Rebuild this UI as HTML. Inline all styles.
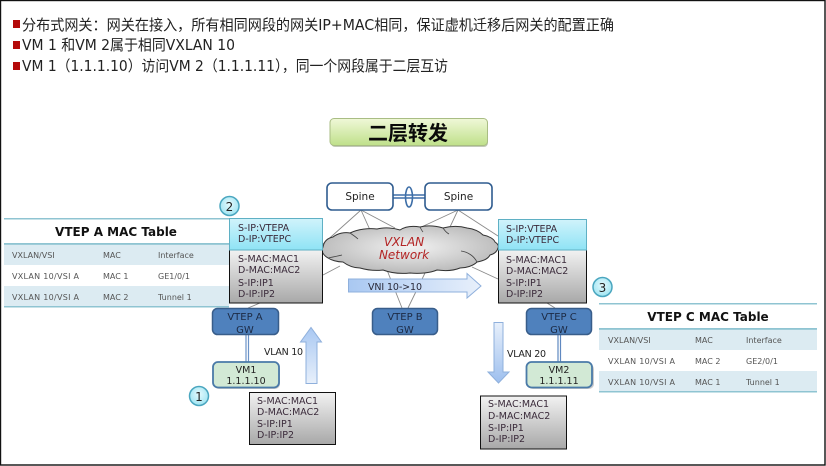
<!DOCTYPE html>
<html><head><meta charset="utf-8"><style>
html,body{margin:0;padding:0;background:#fff}
svg{display:block}
text{font-family:"DejaVu Sans","Noto Sans CJK SC",sans-serif;fill:#222}
.p{font-size:9.5px;fill:#3a2a3a}
.t{font-size:8px;fill:#555}
.g{font-size:10px;fill:#1c2a44;text-anchor:middle}
.m{font-size:15px;fill:#222}
</style></head><body>
<svg width="826" height="466" viewBox="0 0 826 466" xmlns="http://www.w3.org/2000/svg">
<defs>
<linearGradient id="gr" x1="0" y1="0" x2="0" y2="1"><stop offset="0" stop-color="#f2f2f2"/><stop offset="1" stop-color="#a8a8a8"/></linearGradient>
<linearGradient id="bl" x1="0" y1="0" x2="0" y2="1"><stop offset="0" stop-color="#d0f3fb"/><stop offset="1" stop-color="#8fe3f5"/></linearGradient>
<linearGradient id="ti" x1="0" y1="0" x2="0" y2="1"><stop offset="0" stop-color="#f0f8d8"/><stop offset="1" stop-color="#bfe08a"/></linearGradient>
<linearGradient id="ah" x1="0" y1="0" x2="1" y2="0"><stop offset="0" stop-color="#a9c8f2"/><stop offset="1" stop-color="#e8f0fb"/></linearGradient>
<linearGradient id="av" x1="0" y1="0" x2="0" y2="1"><stop offset="0" stop-color="#e8f0fb"/><stop offset="1" stop-color="#9dbfee"/></linearGradient>
<linearGradient id="au" x1="0" y1="0" x2="0" y2="1"><stop offset="0" stop-color="#a9c8f2"/><stop offset="1" stop-color="#e8f0fb"/></linearGradient>
<radialGradient id="ci" cx="0.5" cy="0.4" r="0.6"><stop offset="0" stop-color="#e4fafd"/><stop offset="1" stop-color="#9fe4f2"/></radialGradient>
<radialGradient id="cl" cx="0.5" cy="0.45" r="0.6"><stop offset="0" stop-color="#f2f2f2"/><stop offset="1" stop-color="#b4b4b4"/></radialGradient>
</defs>
<rect width="826" height="466" fill="#fff"/>
<rect x="0.5" y="0.5" width="824.5" height="464.5" fill="none" stroke="#111" stroke-width="1.4"/>

<!-- header text -->
<rect x="13" y="20" width="7" height="8" fill="#b40a0a"/>
<rect x="13" y="41" width="7" height="8" fill="#b40a0a"/>
<rect x="13" y="62" width="7" height="8" fill="#b40a0a"/>
<text class="m" x="22" y="30" textLength="592" lengthAdjust="spacingAndGlyphs">分布式网关：网关在接入，所有相同网段的网关IP+MAC相同，保证虚机迁移后网关的配置正确</text>
<text class="m" x="22" y="50" textLength="213" lengthAdjust="spacingAndGlyphs">VM 1 和VM 2属于相同VXLAN 10</text>
<text class="m" x="22" y="71" textLength="426" lengthAdjust="spacingAndGlyphs">VM 1（1.1.1.10）访问VM 2（1.1.1.11），同一个网段属于二层互访</text>

<!-- title -->
<rect x="331" y="120" width="157" height="27" rx="4" fill="#9aa58a" opacity=".6"/>
<rect x="330" y="118.500" width="157.500" height="27" rx="4" fill="url(#ti)" stroke="#a9bd84"/>
<text x="408" y="140" text-anchor="middle" style="font-size:20px;font-weight:bold;font-family:'Noto Sans CJK SC',sans-serif;fill:#0a0a0a">二层转发</text>

<!-- connector lines -->
<g stroke="#8a8a8a" stroke-width="0.9" fill="none">
<path d="M361 210L323 244M361 210L370 230M361 210L395 228M458 210L415 230M458 210L450 227M458 210L498 236"/>
<path d="M323 275L340 266M323 250L340 242M472 267L498 279M387 270L402 308M425 273L408 308M547 303L555 308M248 308L260 303"/>
</g>

<!-- spine link -->
<g stroke="#3e6fa8" stroke-width="1.600" fill="none">
<path d="M393 195H425M393 198H425"/>
<ellipse cx="409" cy="197" rx="3.500" ry="10"/>
</g>
<rect x="327" y="183" width="66" height="27" rx="5" fill="#fff" stroke="#2f5c8f" stroke-width="1.600"/>
<rect x="425" y="183" width="67" height="27" rx="5" fill="#fff" stroke="#2f5c8f" stroke-width="1.600"/>
<text x="360" y="200" text-anchor="middle" style="font-size:10.500px;fill:#222">Spine</text>
<text x="458.500" y="200" text-anchor="middle" style="font-size:10.500px;fill:#222">Spine</text>

<!-- cloud -->
<path d="M323 247C324 241 328 238 333 237C338 233 345 232 350 233C358 229 369 228 377 229C385 227 394 228 400 230C406 226 414 226 420 227C428 225 436 226 443 228C451 226 460 226 467 228C475 229 480 232 483 235C489 236 494 239 495 242C498 244 499 246 498 248C497 252 494 254 490 255C488 259 483 261 477 262C473 266 466 268 460 268C453 271 445 271 437 270C430 273 419 274 410 273C401 274 391 273 383 270C375 271 367 270 360 268C353 268 347 265 343 262C337 262 331 260 328 258C323 255 321 251 323 247Z" fill="url(#cl)" stroke="#333" stroke-width="1"/>
<g stroke="#444" stroke-width="0.8" fill="none">
<path d="M328 258C333 257 338 256 342 255M350 233C353 235 356 237 358 239M443 228C445 231 447 233 449 234M461 251C468 252 474 256 477 262M420 227C421 229 422 231 423 232"/>
</g>
<text x="404" y="246" text-anchor="middle" style="font-size:12px;font-style:italic;fill:#b32424">VXLAN</text>
<text x="404" y="259" text-anchor="middle" style="font-size:12px;font-style:italic;fill:#b32424">Network</text>

<!-- VNI arrow -->
<path d="M348.500 279H467V273.500L481 286L467 298V292H348.500Z" fill="url(#ah)" stroke="#8fb0dc" stroke-width="1"/>
<text x="368" y="290" textLength="54" style="font-size:9.500px;fill:#2a2a3a">VNI 10-&gt;10</text>

<!-- table A -->
<rect x="4" y="218" width="225" height="1.500" fill="#8fc4d2"/>
<text x="116" y="236" text-anchor="middle" style="font-size:12px;font-weight:bold;fill:#111">VTEP A MAC Table</text>
<rect x="4" y="244" width="225" height="21" fill="#dcebf2"/>
<rect x="4" y="243" width="225" height="1.800" fill="#8fc4d2"/>
<rect x="4" y="286" width="225" height="20" fill="#dcebf2"/>
<rect x="4" y="306" width="225" height="1.500" fill="#8fc4d2"/>
<text class="t" x="12" y="258">VXLAN/VSI</text><text class="t" x="103" y="258">MAC</text><text class="t" x="158" y="258">Interface</text>
<text class="t" x="12" y="279" textLength="67">VXLAN 10/VSI A</text><text class="t" x="103" y="279">MAC 1</text><text class="t" x="158" y="279">GE1/0/1</text>
<text class="t" x="12" y="300" textLength="67">VXLAN 10/VSI A</text><text class="t" x="103" y="300">MAC 2</text><text class="t" x="158" y="300">Tunnel 1</text>

<!-- table C -->
<rect x="599" y="303" width="218" height="1.500" fill="#8fc4d2"/>
<text x="708" y="321" text-anchor="middle" style="font-size:12px;font-weight:bold;fill:#111">VTEP C MAC Table</text>
<rect x="599" y="329" width="218" height="21" fill="#dcebf2"/>
<rect x="599" y="328" width="218" height="1.800" fill="#8fc4d2"/>
<rect x="599" y="371" width="218" height="20" fill="#dcebf2"/>
<rect x="599" y="391" width="218" height="1.500" fill="#8fc4d2"/>
<text class="t" x="608" y="343">VXLAN/VSI</text><text class="t" x="695" y="343">MAC</text><text class="t" x="746" y="343">Interface</text>
<text class="t" x="608" y="364" textLength="67">VXLAN 10/VSI A</text><text class="t" x="695" y="364">MAC 2</text><text class="t" x="746" y="364">GE2/0/1</text>
<text class="t" x="608" y="385" textLength="67">VXLAN 10/VSI A</text><text class="t" x="695" y="385">MAC 1</text><text class="t" x="746" y="385">Tunnel 1</text>

<!-- packet A -->
<rect x="229.500" y="250" width="93" height="53" fill="url(#gr)" stroke="#111"/>
<rect x="229.500" y="218.500" width="93" height="31.500" fill="url(#bl)" stroke="#5fb0c4"/>
<text class="p" x="238" y="231">S-IP:VTEPA</text><text class="p" x="238" y="242">D-IP:VTEPC</text>
<text class="p" x="238" y="262">S-MAC:MAC1</text><text class="p" x="238" y="273">D-MAC:MAC2</text><text class="p" x="238" y="286">S-IP:IP1</text><text class="p" x="238" y="297">D-IP:IP2</text>

<!-- packet C -->
<rect x="498.500" y="250" width="88" height="53" fill="url(#gr)" stroke="#111"/>
<rect x="498.500" y="219.500" width="88" height="30.500" fill="url(#bl)" stroke="#5fb0c4"/>
<text class="p" x="506" y="232">S-IP:VTEPA</text><text class="p" x="506" y="243">D-IP:VTEPC</text>
<text class="p" x="506" y="263">S-MAC:MAC1</text><text class="p" x="506" y="274">D-MAC:MAC2</text><text class="p" x="506" y="286">S-IP:IP1</text><text class="p" x="506" y="297">D-IP:IP2</text>

<!-- packet 1 -->
<rect x="249.500" y="392.500" width="86" height="52" fill="url(#gr)" stroke="#111"/>
<text class="p" x="257" y="404">S-MAC:MAC1</text><text class="p" x="257" y="415">D-MAC:MAC2</text><text class="p" x="257" y="427">S-IP:IP1</text><text class="p" x="257" y="438">D-IP:IP2</text>

<!-- packet 3 -->
<rect x="480.500" y="396" width="86" height="53" fill="url(#gr)" stroke="#111"/>
<text class="p" x="488" y="407">S-MAC:MAC1</text><text class="p" x="488" y="419">D-MAC:MAC2</text><text class="p" x="488" y="431">S-IP:IP1</text><text class="p" x="488" y="442">D-IP:IP2</text>

<!-- links VTEP-VM -->
<path d="M246 335V362M248.500 335V362" stroke="#6c93c7" stroke-width="1.200"/>
<path d="M558 335V362M560.500 335V362" stroke="#5f88c0" stroke-width="1.200"/>

<!-- VTEP boxes -->
<g fill="#4f81bd" stroke="#385d8a" stroke-width="1.500">
<rect x="212.500" y="308.500" width="66" height="26" rx="5"/>
<rect x="372.500" y="308.500" width="65" height="26" rx="5"/>
<rect x="526.500" y="308.500" width="65" height="26" rx="5"/>
</g>
<text class="g" x="245" y="320">VTEP A</text><text class="g" x="245" y="333">GW</text>
<text class="g" x="405" y="320">VTEP B</text><text class="g" x="405" y="333">GW</text>
<text class="g" x="559" y="320">VTEP C</text><text class="g" x="559" y="333">GW</text>

<!-- VM boxes -->
<rect x="214" y="364" width="66" height="25" rx="5" fill="#aaa" opacity=".6"/>
<rect x="528" y="364" width="66" height="25" rx="5" fill="#aaa" opacity=".6"/>
<rect x="213" y="362" width="66" height="25.500" rx="5" fill="#d2e9d5" stroke="#4a7aa8" stroke-width="1.800"/>
<rect x="526.500" y="362" width="65.500" height="25.500" rx="5" fill="#d2e9d5" stroke="#4a7aa8" stroke-width="1.800"/>
<text x="246" y="373" text-anchor="middle" style="font-size:9.500px;fill:#222">VM1</text>
<text x="246" y="384" text-anchor="middle" style="font-size:9.500px;fill:#222">1.1.1.10</text>
<text x="559" y="373" text-anchor="middle" style="font-size:9.500px;fill:#222">VM2</text>
<text x="559" y="384" text-anchor="middle" style="font-size:9.500px;fill:#222">1.1.1.11</text>

<!-- vertical arrows -->
<path d="M306 383.500V342H300.500L311 327.500L321.500 342H317V383.500Z" fill="url(#au)" stroke="#8fb0dc" stroke-width="1"/>
<path d="M494 322.500H503V372H509L498.500 383L488 372H494Z" fill="url(#av)" stroke="#8fb0dc" stroke-width="1"/>
<text x="264" y="355" textLength="39" style="font-size:9.500px;fill:#222">VLAN 10</text>
<text x="507" y="357" textLength="39" style="font-size:9.500px;fill:#222">VLAN 20</text>

<!-- numbered circles -->
<g stroke="#4aa6bf" stroke-width="1.500" fill="url(#ci)">
<circle cx="229.500" cy="206" r="9.500"/>
<circle cx="199" cy="396" r="9.500"/>
<circle cx="602.500" cy="287" r="9.500"/>
</g>
<text x="229.500" y="211" text-anchor="middle" style="font-size:12px;fill:#222">2</text>
<text x="199" y="401" text-anchor="middle" style="font-size:12px;fill:#222">1</text>
<text x="602.500" y="292" text-anchor="middle" style="font-size:12px;fill:#222">3</text>
</svg>
</body></html>
